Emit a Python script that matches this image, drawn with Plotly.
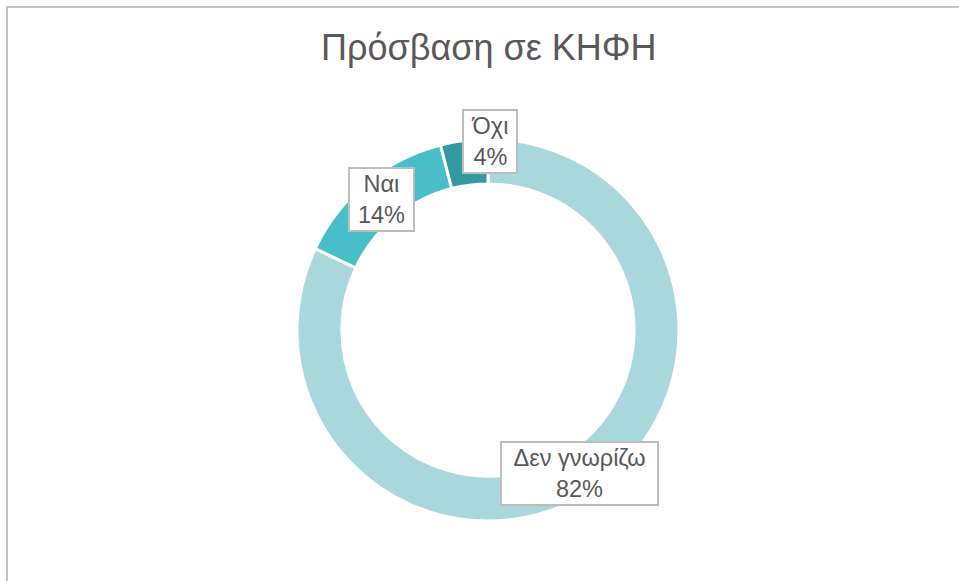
import math
import plotly.graph_objects as go

# Survey answers: access to day-care centres (ΚΗΦΗ)
categories = ["Δεν γνωρίζω", "Ναι", "Όχι"]
shares = [82, 14, 4]
colors = ["#A9D8DC", "#47BEC8", "#349AA1"]
title_text = "Πρόσβαση σε ΚΗΦΗ"

W, H = 959, 581
CX, CY, R = 488, 330, 191          # donut centre and outer radius (px)
HOLE = 0.765
LABEL_R = 170                       # radius where labels sit (px)
label_nudge = {"Όχι": (23, -20), "Ναι": (2, 0)}   # keep small-slice labels clear
label_box = {"Δεν γνωρίζω": 153, "Ναι": 61, "Όχι": 50}   # label box widths (px)

font_family = "Liberation Sans, Arial, sans-serif"
text_color = "#595959"

fig = go.Figure(
    go.Pie(
        labels=categories,
        values=shares,
        sort=False,
        direction="clockwise",
        rotation=0,
        hole=HOLE,
        marker=dict(colors=colors, line=dict(color="white", width=3)),
        textinfo="none",
        hoverinfo="label+percent",
        showlegend=False,
        domain=dict(
            x=[(CX - R) / W, (CX + R) / W],
            y=[1 - (CY + R) / H, 1 - (CY - R) / H],
        ),
    )
)

# Boxed labels placed at each slice's mid-angle
total = sum(shares)
start = 0.0
annotations = []
for name, v in zip(categories, shares):
    frac = v / total
    mid = (start + frac / 2) * 2 * math.pi
    start += frac
    px = CX + LABEL_R * math.sin(mid)
    py = CY - LABEL_R * math.cos(mid)
    dx, dy = label_nudge.get(name, (0, 0))
    px += dx
    py += dy
    annotations.append(dict(
        x=px / W, y=1 - py / H, xref="paper", yref="paper",
        text=f"{name}<br>{round(frac * 100)}%",
        showarrow=False,
        font=dict(family=font_family, size=23.5, color=text_color),
        bgcolor="white", bordercolor="#BDBDBD", borderwidth=2, borderpad=1,
        width=label_box[name], height=59,
        xanchor="center", yanchor="middle",
    ))

annotations.append(dict(
    x=CX / W, y=1 - 48 / H, xref="paper", yref="paper",
    text=title_text, showarrow=False,
    font=dict(family=font_family, size=36, color=text_color),
    xanchor="center", yanchor="middle",
))

fig.update_layout(
    width=W, height=H,
    margin=dict(l=0, r=0, t=0, b=0),
    paper_bgcolor="white",
    plot_bgcolor="white",
    annotations=annotations,
    shapes=[dict(
        type="rect", xref="paper", yref="paper",
        x0=7 / W, x1=1.05, y0=-0.05, y1=1 - 7 / H,
        line=dict(color="#C4C4C4", width=2), fillcolor="rgba(0,0,0,0)",
        layer="below",
    )],
)

fig.write_html("out.html")
